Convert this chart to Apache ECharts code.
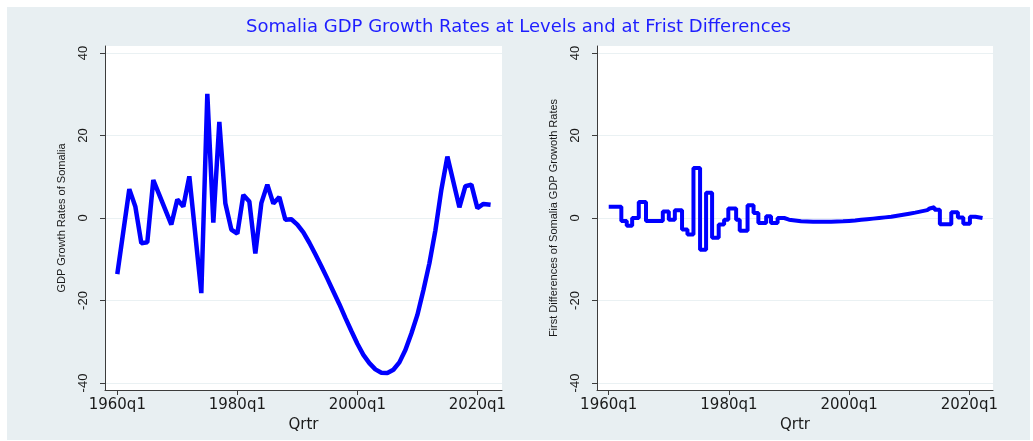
<!DOCTYPE html>
<html>
<head>
<meta charset="utf-8">
<script src="https://cdn.jsdelivr.net/npm/echarts@6/dist/echarts.min.js"></script>
<style>
  body { margin: 0; background: #ffffff; }
  #chart { position: absolute; left: 7px; top: 7px; width: 1023px; height: 433px; }
</style>
</head>
<body>
<div id="chart"></div>
<script>
// levels: year (decimal) and GDP growth rate
const levelYears = [1960, 1962, 1963, 1964, 1965, 1966, 1967, 1969, 1970, 1971, 1972, 1974, 1975, 1976, 1977, 1978, 1979, 1980, 1981, 1982, 1983, 1984, 1985, 1986, 1987, 1988, 1989, 1990, 1991, 1992, 1993, 1994, 1995, 1996, 1997, 1998, 1999, 2000, 2001, 2002, 2003, 2004, 2005, 2006, 2007, 2008, 2009, 2010, 2011, 2012, 2013, 2014, 2015, 2017, 2018, 2019, 2020, 2021, 2022.2];
const levelValues = [-13.6, 7.0, 2.8, -6.1, -5.9, 9.2, 5.6, -1.6, 4.5, 2.8, 10.1, -18.2, 30.1, -1.1, 23.3, 3.6, -2.8, -3.8, 5.6, 4.0, -8.6, 3.6, 8.1, 3.5, 5.1, -0.4, -0.3, -1.6, -3.5, -6.0, -8.8, -11.7, -14.7, -17.8, -20.9, -24.2, -27.4, -30.5, -33.2, -35.2, -36.7, -37.5, -37.6, -36.8, -35.0, -32.0, -28.0, -23.5, -17.5, -11.0, -3.0, 6.9, 14.9, 2.6, 7.7, 8.1, 2.4, 3.4, 3.2];

// first differences: start of each flat step and its value
const diffYears = [1960, 1962.1, 1963.0, 1963.9, 1965.0, 1966.2, 1969.0, 1970.0, 1971.0, 1972.2, 1973.1, 1974.1, 1975.2, 1976.2, 1977.2, 1978.3, 1979.2, 1979.9, 1981.2, 1981.8, 1983.1, 1984.1, 1984.9, 1986.2, 1987.0, 1988.1, 1989.2, 1990, 1991, 1992, 1993, 1994, 1995, 1996, 1997, 1998, 1999, 2000, 2001, 2002, 2003, 2004, 2005, 2006, 2007, 2008, 2009, 2010, 2011, 2012, 2013, 2013.4, 2014.2, 2015.1, 2017.0, 2018.1, 2019.0, 2020.1, 2021.0, 2022.2];
const diffValues = [2.7, -0.7, -1.9, 0.0, 3.9, -0.7, 1.6, -0.4, 1.9, -2.8, -4.0, 12.1, -7.7, 6.1, -4.8, -1.6, -0.4, 2.3, -0.4, -3.1, 3.1, 1.2, -1.2, 0.4, -1.2, 0.0, -0.4, -0.6, -0.8, -0.85, -0.9, -0.9, -0.9, -0.9, -0.85, -0.8, -0.7, -0.6, -0.45, -0.3, -0.15, 0.0, 0.15, 0.3, 0.55, 0.8, 1.05, 1.3, 1.6, 1.9, 2.3, 2.6, 2.0, -1.5, 1.4, 0.1, -1.4, 0.3, 0.0, 0.0];

const xTicks = [1960, 1980, 2000, 2020];
const yTicks = [-40, -20, 0, 20, 40];

const titleText = 'Somalia GDP Growth Rates at Levels and at Frist Differences';
const leftName = 'GDP Growth Rates of Somalia';
const rightName = 'First Differences of Somalia GDP Growoth Rates';

const lineBlue = '#0000ff';
const axisColor = '#3c3c3c';
const textColor = '#1a1a1a';

function pairs(xs, ys) {
  return xs.map((x, i) => [x, ys[i]]);
}

function makeX(idx, min, max) {
  return {
    type: 'value', gridIndex: idx, min: min, max: max,
    name: 'Qrtr', nameLocation: 'middle', nameGap: 17,
    nameTextStyle: { fontFamily: 'DejaVu Sans', fontSize: 15, color: textColor },
    axisLine: { onZero: false, lineStyle: { color: axisColor, width: 1 } },
    axisTick: { customValues: xTicks, length: 5, lineStyle: { color: axisColor } },
    axisLabel: {
      customValues: xTicks, margin: 8,
      fontFamily: 'DejaVu Sans', fontSize: 15, color: textColor,
      formatter: v => v + 'q1'
    },
    splitLine: { show: false }
  };
}

function makeY(idx, name) {
  return {
    type: 'value', gridIndex: idx, min: -41.7, max: 41.7,
    name: name, nameLocation: 'middle', nameRotate: 90, nameGap: 38,
    nameTextStyle: { fontFamily: 'Liberation Sans', fontSize: 11, color: textColor },
    axisLine: { show: true, onZero: false, lineStyle: { color: axisColor, width: 1 } },
    axisTick: { show: true, customValues: yTicks, length: 5, lineStyle: { color: axisColor } },
    axisLabel: {
      customValues: yTicks, rotate: 90, margin: 15,
      fontFamily: 'Liberation Sans', fontSize: 13, color: textColor
    },
    splitLine: { show: true, lineStyle: { color: '#eaf1f3', width: 1 } }
  };
}

const chart = echarts.init(document.getElementById('chart'));
chart.setOption({
  backgroundColor: '#e8eff2',
  animation: false,
  title: {
    text: titleText, left: 'center', top: 6,
    textStyle: { fontFamily: 'DejaVu Sans', fontSize: 18, fontWeight: 'normal', color: '#1e1eff' }
  },
  grid: [
    { left: 98, top: 39, width: 397, height: 344, show: true, backgroundColor: '#ffffff', borderWidth: 0 },
    { left: 590, top: 39, width: 396, height: 344, show: true, backgroundColor: '#ffffff', borderWidth: 0 }
  ],
  xAxis: [makeX(0, 1957.95, 2024.1), makeX(1, 1958.05, 2023.94)],
  yAxis: [makeY(0, leftName), makeY(1, rightName)],
  series: [
    {
      type: 'line', xAxisIndex: 0, yAxisIndex: 0,
      data: pairs(levelYears, levelValues),
      showSymbol: false, lineStyle: { color: lineBlue, width: 4.5 }
    },
    {
      type: 'line', xAxisIndex: 1, yAxisIndex: 1, step: 'end',
      data: pairs(diffYears, diffValues),
      showSymbol: false, lineStyle: { color: lineBlue, width: 4 }
    }
  ]
});
</script>
</body>
</html>
